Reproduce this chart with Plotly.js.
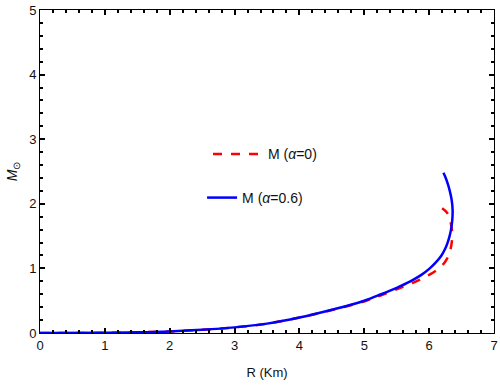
<!DOCTYPE html>
<html><head><meta charset="utf-8">
<script src="https://cdn.plot.ly/plotly-3.0.1.min.js"></script>
<style>html,body{margin:0;padding:0;background:#fff}#c{width:500px;height:388px}</style>
</head><body><div id="c"></div>
<script>
// Mass-radius curves
const R_alpha0  = [0, 1, 1.5, 2, 2.5, 3, 3.5, 4, 4.5, 5.03, 5.3, 5.56, 5.8, 6.0, 6.15, 6.245, 6.3, 6.33, 6.348, 6.355, 6.35, 6.335, 6.31, 6.27, 6.2];
const M_alpha0  = [0, 0.003, 0.01, 0.025, 0.05, 0.087, 0.145, 0.24, 0.355, 0.5, 0.6, 0.7, 0.8, 0.9, 1.0, 1.1, 1.2, 1.3, 1.4, 1.5, 1.6, 1.7, 1.8, 1.87, 1.93];
const R_alpha06 = [0, 1, 1.5, 2, 2.5, 3, 3.5, 4, 4.5, 5.0, 5.26, 5.5, 5.71, 5.88, 6.01, 6.11, 6.19, 6.245, 6.285, 6.315, 6.337, 6.352, 6.36, 6.362, 6.355, 6.34, 6.318, 6.29, 6.256, 6.22];
const M_alpha06 = [0, 0.003, 0.01, 0.025, 0.05, 0.087, 0.145, 0.24, 0.36, 0.5, 0.6, 0.7, 0.8, 0.9, 1.0, 1.1, 1.2, 1.3, 1.4, 1.5, 1.6, 1.7, 1.8, 1.9, 2.0, 2.1, 2.2, 2.3, 2.4, 2.48];
const xTicks = [0, 1, 2, 3, 4, 5, 6, 7];
const yTicks = [0, 1, 2, 3, 4, 5];
const xMinorTicks = [0.2,0.4,0.6,0.8,1.2,1.4,1.6,1.8,2.2,2.4,2.6,2.8,3.2,3.4,3.6,3.8,4.2,4.4,4.6,4.8,5.2,5.4,5.6,5.8,6.2,6.4,6.6,6.8];
const yMinorTicks = [0.2,0.4,0.6,0.8,1.2,1.4,1.6,1.8,2.2,2.4,2.6,2.8,3.2,3.4,3.6,3.8,4.2,4.4,4.6,4.8];

const traces = [
  {x: R_alpha0, y: M_alpha0, mode: 'lines', name: 'M (<i>α</i>=0)',
   line: {color: '#ff0000', width: 2.5, dash: 'dash', shape: 'spline', smoothing: 1}, legend: 'legend'},
  {x: R_alpha06, y: M_alpha06, mode: 'lines', name: 'M (<i>α</i>=0.6)',
   line: {color: '#0000ff', width: 2.5, shape: 'spline', smoothing: 1}, legend: 'legend2'}
];
const fam = 'Liberation Sans, Arial, sans-serif';
function axis(range, major, minor, title) {
  return {
    range: range, showgrid: false, zeroline: false, showline: true, linecolor: '#000', linewidth: 1,
    mirror: 'ticks', ticks: 'inside', ticklen: 5, tickwidth: 1.5, tickcolor: '#000',
    ticklabeloverflow: 'allow', tickmode: 'array', tickvals: major,
    minor: {tickmode: 'array', tickvals: minor, ticks: 'inside', ticklen: 3, tickwidth: 1.5, tickcolor: '#000', showgrid: false},
    tickfont: {family: fam, size: 13, color: '#111'},
    title: title
  };
}
const layout = {
  width: 500, height: 388,
  margin: {l: 40, r: 6, t: 10, b: 55},
  paper_bgcolor: '#fff', plot_bgcolor: '#fff',
  font: {family: fam, size: 13, color: '#111'},
  xaxis: axis([0, 7], xTicks, xMinorTicks, {text: 'R (Km)', standoff: 16, font: {size: 13}}),
  yaxis: axis([0, 5], yTicks, yMinorTicks, {text: '<i>M</i><sub>⊙</sub>', standoff: 8, font: {size: 14}}),
  legend: {x: 0.37, y: 0.553, xanchor: 'left', yanchor: 'middle', bgcolor: 'rgba(0,0,0,0)',
    itemwidth: 50, font: {size: 14, color: '#111'}},
  legend2: {x: 0.357, y: 0.418, xanchor: 'left', yanchor: 'middle', bgcolor: 'rgba(0,0,0,0)',
    font: {size: 14, color: '#111'}},
  showlegend: true
};
Plotly.newPlot('c', traces, layout, {displayModeBar: false});
</script></body></html>
